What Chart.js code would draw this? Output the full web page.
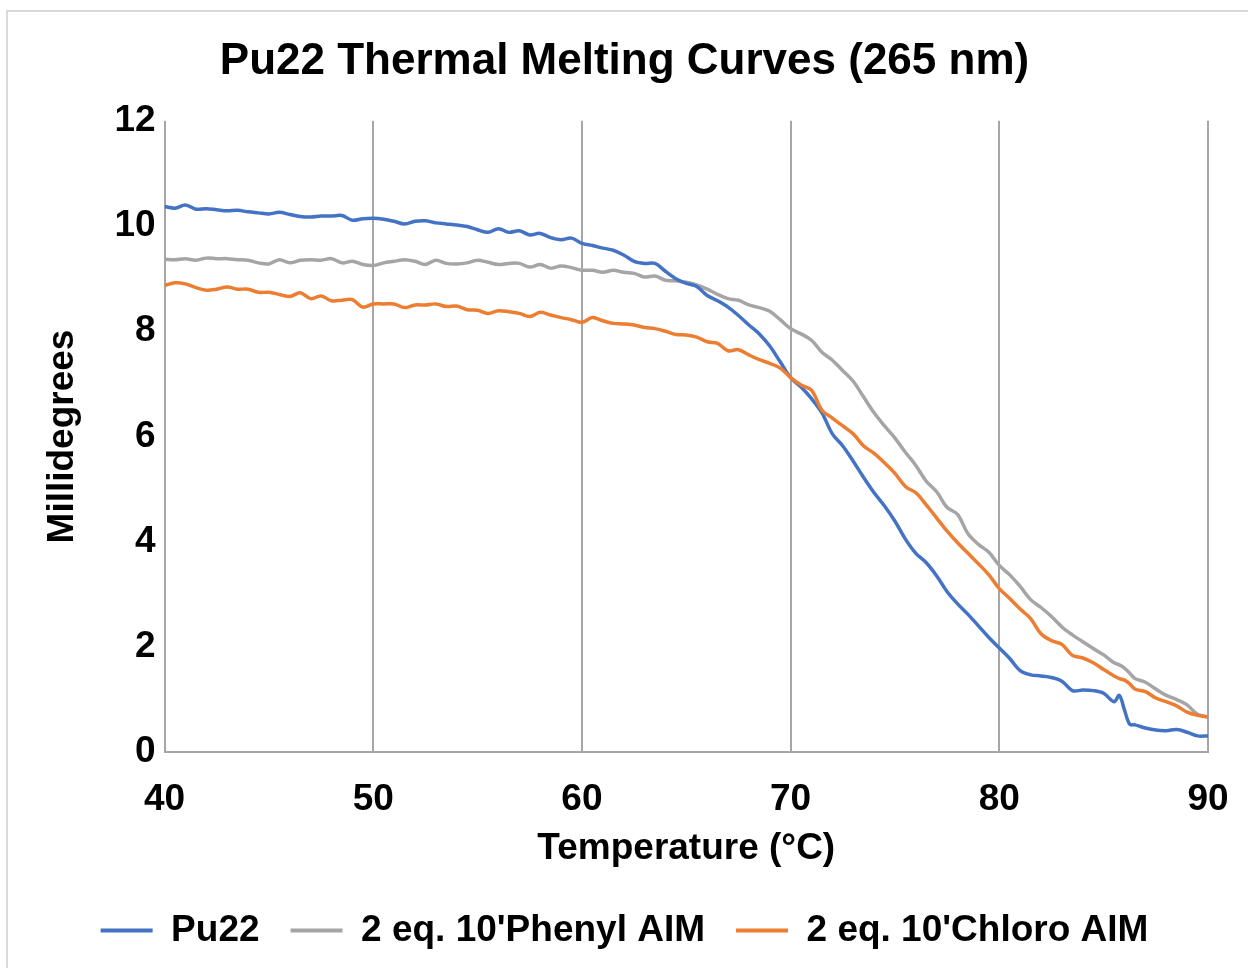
<!DOCTYPE html>
<html>
<head>
<meta charset="utf-8">
<script src="https://cdn.jsdelivr.net/npm/chart.js@4"></script>
<style>
    html, body { margin: 0; padding: 0; background: #ffffff; }
    #wrap { position: relative; width: 1248px; height: 968px; }
    #frame { position: absolute; left: 6px; top: 10px; right: -4px; bottom: -4px;
             border-left: 2px solid #d9d9d9; border-top: 2px solid #d9d9d9; }
    #chart { position: absolute; left: 0; top: 0; }
</style>
</head>
<body>
<div id="wrap">
    <div id="frame"></div>
    <canvas id="chart" width="1248" height="968"></canvas>
</div>
<script>
// temperature (°C)
const temps = [
    40, 40.5, 41, 41.5, 42, 42.5, 43, 43.5, 44, 44.5,
    45, 45.5, 46, 46.5, 47, 47.5, 48, 48.5, 49, 49.5,
    50, 50.5, 51, 51.5, 52, 52.5, 53, 53.5, 54, 54.5,
    55, 55.5, 56, 56.5, 57, 57.5, 58, 58.5, 59, 59.5,
    60, 60.5, 61, 61.5, 62, 62.5, 63, 63.5, 64, 64.5,
    65, 65.5, 66, 66.5, 67, 67.5, 68, 68.5, 69, 69.5,
    70, 70.5, 71, 71.5, 72, 72.5, 73, 73.5, 74, 74.5,
    75, 75.5, 76, 76.5, 77, 77.5, 78, 78.5, 79, 79.5,
    80, 80.5, 81, 81.5, 82, 82.5, 83, 83.5, 84, 84.5,
    85, 85.5, 85.75, 86, 86.25, 86.5, 87, 87.5, 88, 88.5, 89, 89.5, 90
];

// millidegrees
const pu22 = [
    10.37, 10.34, 10.40, 10.32, 10.33, 10.31, 10.29, 10.30, 10.27, 10.25,
    10.23, 10.26, 10.22, 10.18, 10.17, 10.19, 10.19, 10.20, 10.11, 10.14,
    10.15, 10.13, 10.09, 10.04, 10.09, 10.10, 10.06, 10.04, 10.02, 9.99,
    9.93, 9.88, 9.95, 9.88, 9.91, 9.83, 9.86, 9.78, 9.74, 9.77,
    9.67, 9.63, 9.58, 9.54, 9.45, 9.33, 9.29, 9.29, 9.14, 9.00,
    8.91, 8.85, 8.68, 8.58, 8.46, 8.30, 8.12, 7.95, 7.72, 7.42,
    7.12, 6.94, 6.72, 6.45, 6.05, 5.82, 5.53, 5.22, 4.93, 4.68,
    4.39, 4.05, 3.78, 3.60, 3.35, 3.05, 2.82, 2.62, 2.40, 2.18,
    1.98, 1.78, 1.55, 1.47, 1.45, 1.42, 1.35, 1.17, 1.18, 1.17,
    1.12, 0.96, 1.08, 0.80, 0.53, 0.52, 0.46, 0.42, 0.41, 0.43, 0.38, 0.31, 0.31
];

const phenyl = [
    9.37, 9.36, 9.38, 9.35, 9.39, 9.38, 9.38, 9.36, 9.35, 9.30,
    9.28, 9.36, 9.30, 9.35, 9.36, 9.35, 9.38, 9.30, 9.33, 9.27,
    9.25, 9.30, 9.33, 9.36, 9.33, 9.27, 9.35, 9.29, 9.28, 9.30,
    9.35, 9.31, 9.27, 9.29, 9.29, 9.22, 9.27, 9.20, 9.24, 9.21,
    9.16, 9.16, 9.12, 9.16, 9.12, 9.10, 9.03, 9.05, 8.97, 8.96,
    8.93, 8.88, 8.80, 8.70, 8.62, 8.59, 8.50, 8.45, 8.38, 8.22,
    8.05, 7.95, 7.83, 7.60, 7.45, 7.25, 7.05, 6.75, 6.45, 6.20,
    5.97, 5.70, 5.45, 5.15, 4.95, 4.65, 4.52, 4.15, 3.95, 3.80,
    3.55, 3.37, 3.15, 2.90, 2.75, 2.58, 2.38, 2.23, 2.10, 1.97,
    1.85, 1.70, 1.66, 1.60, 1.50, 1.40, 1.33, 1.20, 1.08, 1.00, 0.90, 0.72, 0.67
];

const chloro = [
    8.87, 8.92, 8.90, 8.83, 8.78, 8.80, 8.84, 8.80, 8.80, 8.74,
    8.74, 8.70, 8.66, 8.73, 8.62, 8.67, 8.58, 8.59, 8.60, 8.46,
    8.52, 8.52, 8.52, 8.45, 8.50, 8.50, 8.52, 8.47, 8.48, 8.41,
    8.40, 8.34, 8.39, 8.37, 8.34, 8.28, 8.36, 8.31, 8.26, 8.22,
    8.17, 8.26, 8.20, 8.15, 8.14, 8.12, 8.07, 8.05, 8.00, 7.94,
    7.93, 7.89, 7.80, 7.77, 7.63, 7.65, 7.55, 7.46, 7.39, 7.30,
    7.12, 6.98, 6.88, 6.50, 6.35, 6.20, 6.05, 5.82, 5.68, 5.50,
    5.30, 5.05, 4.93, 4.70, 4.45, 4.20, 3.98, 3.78, 3.58, 3.37,
    3.11, 2.92, 2.72, 2.54, 2.25, 2.12, 2.05, 1.84, 1.79, 1.70,
    1.57, 1.45, 1.40, 1.37, 1.30, 1.20, 1.15, 1.03, 0.96, 0.88, 0.76, 0.70, 0.67
];

const seriesNames = ['Pu22', "2 eq. 10'Phenyl AIM", "2 eq. 10'Chloro AIM"];
const seriesColors = ['#4472c4', '#a5a5a5', '#ed7d31'];
const seriesValues = [pu22, phenyl, chloro];

const FONT = "'Liberation Sans', Arial, sans-serif";

function toPoints(vals) {
    return vals.map((v, i) => ({ x: temps[i], y: v }));
}

const datasets = seriesValues.map((vals, k) => ({
    label: seriesNames[k],
    data: toPoints(vals),
    borderColor: seriesColors[k],
    backgroundColor: seriesColors[k],
    borderWidth: 3.5,
    pointRadius: 0,
    tension: 0.35,
    fill: false
}));

// gray behind, blue above it, orange on top
datasets[0].order = 2;
datasets[1].order = 3;
datasets[2].order = 1;

Chart.defaults.font.family = FONT;
Chart.defaults.color = '#000000';

const ctx = document.getElementById('chart').getContext('2d');
const chart = new Chart(ctx, {
    type: 'line',
    data: { datasets: datasets },
    options: {
        responsive: false,
        animation: false,
        layout: { padding: { left: 41, right: 40, top: 35, bottom: 9 } },
        plugins: {
            title: {
                display: true,
                text: 'Pu22 Thermal Melting Curves (265 nm)',
                font: { size: 44, weight: 'bold' },
                color: '#000000',
                padding: { top: 0, bottom: 33 }
            },
            legend: {
                position: 'bottom',
                labels: {
                    boxWidth: 52,
                    boxHeight: 4,
                    padding: 31,
                    font: { size: 37, weight: 'bold' },
                    color: '#000000',
                    generateLabels: (c) => c.data.datasets.map((ds, i) => ({
                        text: ds.label,
                        fillStyle: ds.borderColor,
                        strokeStyle: ds.borderColor,
                        lineWidth: 0,
                        datasetIndex: i,
                        hidden: false
                    }))
                }
            },
            tooltip: { enabled: false }
        },
        scales: {
            x: {
                type: 'linear',
                min: 40,
                max: 90,
                afterFit: (s) => { s.paddingRight = 0; },
                ticks: { stepSize: 10, font: { size: 37, weight: 'bold' }, color: '#000000', padding: 25 },
                grid: { display: true, color: '#a6a6a6', lineWidth: 2, drawTicks: false },
                border: { display: true, color: '#a6a6a6', width: 2 },
                title: {
                    display: true,
                    text: 'Temperature (°C)',
                    font: { size: 37, weight: 'bold' },
                    color: '#000000',
                    padding: { top: -20, bottom: 10 }
                }
            },
            y: {
                min: 0,
                max: 12,
                ticks: { stepSize: 2, font: { size: 37, weight: 'bold' }, color: '#000000', padding: 9 },
                grid: { display: false, drawTicks: false },
                border: { display: false },
                title: {
                    display: true,
                    text: 'Millidegrees',
                    font: { size: 37, weight: 'bold' },
                    color: '#000000',
                    padding: { top: 0, bottom: 20 }
                }
            }
        }
    }
});
</script>
</body>
</html>
